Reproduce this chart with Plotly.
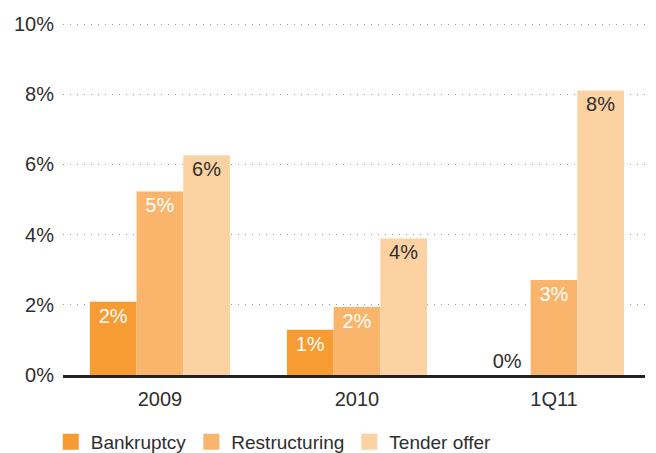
import plotly.graph_objects as go

categories = ["2009", "2010", "1Q11"]
bankruptcy = [2.09, 1.29, 0.0]
restructuring = [5.23, 1.94, 2.71]
tender_offer = [6.26, 3.89, 8.11]
bar_labels = {
    "Bankruptcy": ["2%", "1%", "0%"],
    "Restructuring": ["5%", "2%", "3%"],
    "Tender offer": ["6%", "4%", "8%"],
}
y_ticks = [0, 2, 4, 6, 8, 10]
y_tick_labels = ["0%", "2%", "4%", "6%", "8%", "10%"]

FONT = "Liberation Sans, Arial, Helvetica, sans-serif"
DARK = "#2e2e2e"
colors = {"Bankruptcy": "#F79B33", "Restructuring": "#F9B56C", "Tender offer": "#FCD2A3"}

series = [
    ("Bankruptcy", bankruptcy, ["inside", "inside", "outside"], ["white", "white", DARK]),
    ("Restructuring", restructuring, ["inside"] * 3, ["white"] * 3),
    ("Tender offer", tender_offer, ["inside"] * 3, [DARK] * 3),
]

fig = go.Figure()
for name, vals, pos, tcol in series:
    fig.add_trace(go.Bar(
        x=categories, y=vals, name=name,
        marker=dict(color=colors[name], line=dict(width=0)),
        text=bar_labels[name], textposition=pos,
        insidetextanchor="end",
        textfont=dict(family=FONT, size=20, color=tcol),
        outsidetextfont=dict(family=FONT, size=20, color=tcol),
        insidetextfont=dict(family=FONT, size=20, color=tcol),
        cliponaxis=False, showlegend=False, hoverinfo="skip",
    ))
# legend entries with larger square swatches
for name, _, _, _ in series:
    fig.add_trace(go.Scatter(
        x=[None], y=[None], mode="markers", name=name,
        marker=dict(symbol="square", size=18, color=colors[name]),
        showlegend=True,
    ))

fig.update_layout(
    width=656, height=453,
    margin=dict(l=63, r=11, t=23, b=78, autoexpand=False),
    paper_bgcolor="white", plot_bgcolor="white",
    barmode="group", bargap=0.289, bargroupgap=0,
    font=dict(family=FONT, size=20, color=DARK),
    legend=dict(orientation="h", x=-0.021, xanchor="left", y=-0.19, yanchor="middle",
                font=dict(family=FONT, size=19, color=DARK),
                itemsizing="trace", bgcolor="rgba(0,0,0,0)"),
)
fig.update_xaxes(
    range=[-0.492, 2.462],
    showline=True, linecolor="#222222", linewidth=2.5,
    showgrid=False, ticks="", ticklabelstandoff=4, automargin=False,
    tickfont=dict(family=FONT, size=20, color=DARK),
)
fig.update_yaxes(
    range=[0, 10.03], tickvals=y_ticks, ticktext=y_tick_labels,
    showgrid=True, gridcolor="#999999", gridwidth=1, griddash="1px,6px",
    zeroline=False, showline=False, ticks="", ticklabelstandoff=8, automargin=False,
    tickfont=dict(family=FONT, size=20, color=DARK),
)

fig.write_html("out.html", config={"displayModeBar": False},
               post_script="document.body.style.margin='0';document.body.style.overflow='hidden';")
